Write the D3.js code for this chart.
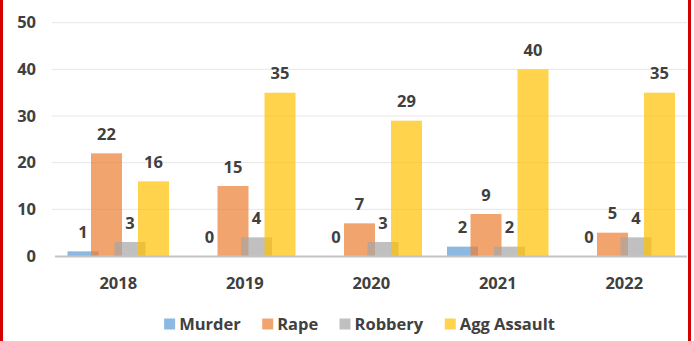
<!DOCTYPE html>
<html>
<head>
<meta charset="utf-8">
<script src="https://cdn.jsdelivr.net/npm/d3@7"></script>
<style>
  html, body { margin: 0; padding: 0; background: #fff; }
  svg { display: block; }
  text { font-family: "Open Sans", "Noto Sans", sans-serif; font-weight: 700; fill: #404040; }
</style>
</head>
<body>
<svg id="chart" width="694" height="341"></svg>
<script>
// Crime counts by year
const years = ["2018", "2019", "2020", "2021", "2022"];
const seriesNames = ["Murder", "Rape", "Robbery", "Agg Assault"];
const murder = [1, 0, 0, 2, 0];
const rape = [22, 15, 7, 9, 5];
const robbery = [3, 4, 3, 2, 4];
const aggAssault = [16, 35, 29, 40, 35];
const yTicks = [0, 10, 20, 30, 40, 50];
const colors = ["#5B9BD5", "#ED7D31", "#A5A5A5", "#FFC000"];

const seriesValues = [murder, rape, robbery, aggAssault];
const W = 694, H = 341;
const FS = 16.5;
const svg = d3.select("#chart");

const x = d3.scaleBand().domain(years).range([55, 687.5]).paddingInner(0).paddingOuter(0);
const offset = d3.scalePoint().domain(seriesNames).range([-35.25, 35.25]);
const barW = 31;
const y = d3.scaleLinear().domain([0, 50]).range([256, 22.7]);

// gridlines
const grid = svg.append("g");
grid.selectAll("line").data(yTicks.filter(t => t > 0)).join("line")
  .attr("x1", 52).attr("x2", 687)
  .attr("y1", d => y(d)).attr("y2", d => y(d))
  .attr("stroke", "#e6e6e6").attr("stroke-width", 1);

// y axis labels
const yAxis = d3.axisLeft(y).tickValues(yTicks).tickSize(0).tickPadding(0);
const yG = svg.append("g").attr("transform", "translate(36,0)").call(yAxis);
yG.select(".domain").remove();
yG.selectAll("text").attr("font-size", FS).attr("fill", "#404040")
  .style("font-family", "'Open Sans', sans-serif").style("font-weight", 700);

// bars
const barData = [];
seriesNames.forEach((s, si) => {
  years.forEach((yr, yi) => {
    barData.push({ series: s, si, year: yr, value: seriesValues[si][yi] });
  });
});

const cx = d => x(d.year) + x.bandwidth() / 2 + offset(d.series);

svg.append("g").selectAll("rect").data(barData).join("rect")
  .attr("x", d => cx(d) - barW / 2)
  .attr("width", barW)
  .attr("y", d => y(d.value))
  .attr("height", d => y(0) - y(d.value))
  .attr("fill", d => colors[d.si])
  .attr("fill-opacity", 0.7);

// baseline
svg.append("line")
  .attr("x1", 55).attr("x2", 687)
  .attr("y1", y(0) + 0.5).attr("y2", y(0) + 0.5)
  .attr("stroke", "#c4c4c4").attr("stroke-width", 2);

// value labels
svg.append("g").selectAll("text").data(barData).join("text")
  .attr("x", d => cx(d))
  .attr("y", d => y(d.value) - 13.5)
  .attr("text-anchor", "middle")
  .attr("font-size", FS)
  .text(d => d.value);

// x axis labels
const xAxis = d3.axisBottom(x).tickSize(0).tickPadding(0);
const xG = svg.append("g").attr("transform", "translate(0,288.5)").call(xAxis);
xG.select(".domain").remove();
xG.selectAll("text").attr("dy", 0).attr("font-size", FS).attr("fill", "#404040")
  .style("font-family", "'Open Sans', sans-serif").style("font-weight", 700);

// legend
const legend = svg.append("g");
const items = legend.selectAll("g").data(seriesNames).join("g");
items.append("rect").attr("width", 11).attr("height", 11).attr("y", -11.5)
  .attr("fill", (d, i) => colors[i]).attr("fill-opacity", 0.7);
items.append("text").attr("x", 15).attr("y", 0).attr("font-size", FS).text(d => d);
const gap = 21;
let lx = 0;
const pos = [];
items.each(function () {
  pos.push(lx);
  const w = this.getBBox().width;
  lx += w + gap;
});
const total = lx - gap;
const startX = 359.5 - total / 2;
items.attr("transform", (d, i) => `translate(${startX + pos[i]},330)`);

// frame sides
svg.append("rect").attr("x", 0).attr("y", 0).attr("width", 3).attr("height", H).attr("fill", "#d40000");
svg.append("rect").attr("x", 688).attr("y", 0).attr("width", 3).attr("height", H).attr("fill", "#d40000");
</script>
</body>
</html>
